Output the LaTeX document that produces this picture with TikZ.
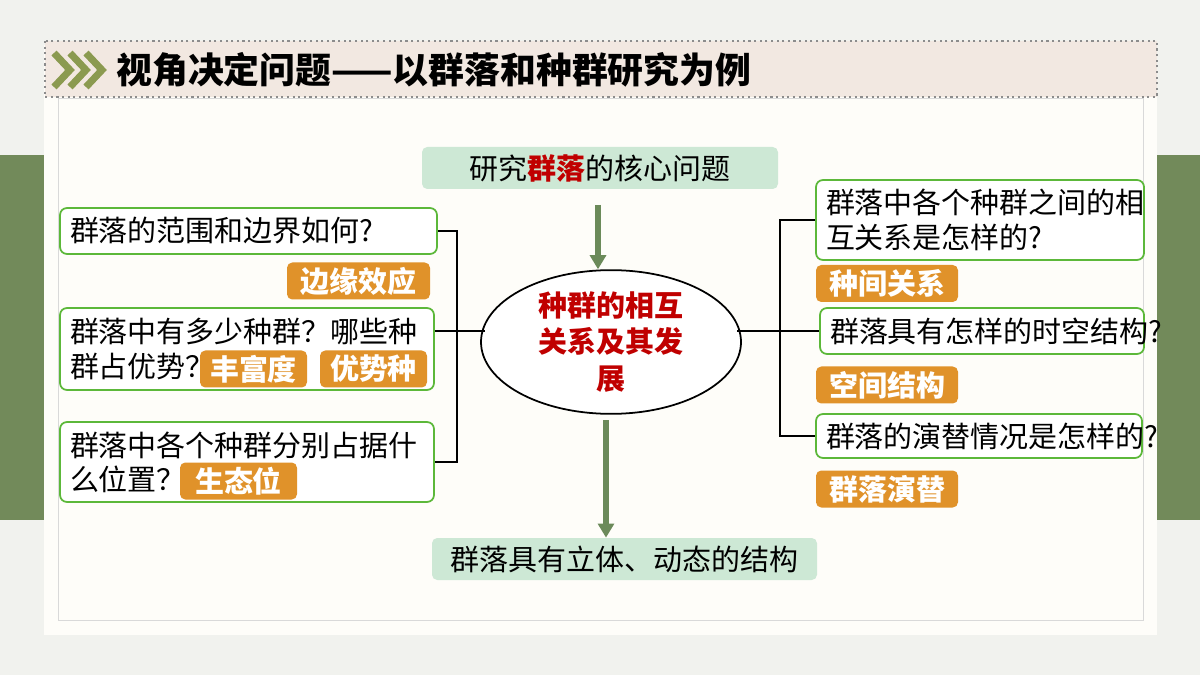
\documentclass[tikz,border=0pt]{standalone}
\usepackage{fontspec}
\setmainfont{Noto Sans CJK SC}
\usetikzlibrary{arrows.meta,positioning,shapes.geometric}
\definecolor{bgray}{HTML}{F1F2EE}
\definecolor{sidegreen}{HTML}{728A5A}
\definecolor{panel}{HTML}{FEFDF9}
\definecolor{headfill}{HTML}{F2E8E1}
\definecolor{olive}{HTML}{8B9A50}
\definecolor{mint}{HTML}{CDE8D5}
\definecolor{boxgreen}{HTML}{5CB83A}
\definecolor{tagorange}{HTML}{E0922A}
\definecolor{arrowgreen}{HTML}{6B8A5A}
\definecolor{keyred}{HTML}{C00000}
\begin{document}
\begin{tikzpicture}[x=0.02cm,y=-0.02cm]
    \tikzstyle{every node} = [font=\fontsize{16.5pt}{19.5pt}\selectfont, inner sep=0pt]
    \tikzstyle{size} = [minimum width=#1*0.02cm]
    \tikzstyle{qbox} = [draw=boxgreen, line width=1pt, fill=white, rounded corners=4pt, align=left, text width=#1*0.02cm-20*0.02cm]
    \tikzstyle{tag} = [fill=tagorange, rounded corners=3pt, text=white, font=\fontsize{16.5pt}{19.5pt}\selectfont\bfseries, minimum height=37*0.02cm]
    \tikzstyle{topic} = [fill=mint, rounded corners=3pt, minimum height=42*0.02cm]
    \tikzstyle{link} = [line width=1pt, black]
    \tikzstyle{flow} = [-{Triangle[length=8pt,width=9pt]}, line width=3.5pt, arrowgreen]
    \useasboundingbox (0,0) rectangle (1200,675);
    % background
    \fill[bgray] (0,0) rectangle (1200,675);
    \fill[sidegreen] (0,155) rectangle (44,520);
    \fill[sidegreen] (1157,155) rectangle (1200,520);
    \fill[panel] (44,45) rectangle (1157,635);
    \draw[black!15] (58,98) rectangle (1143,620);
    % header
    \draw[fill=headfill, draw=black!45, dotted, line width=1.2pt] (45,41) rectangle (1157,97);
    \foreach \dx in {0,16,32}
        \draw[olive, line width=4pt] (54+\dx,53) -- (70+\dx,70) -- (54+\dx,87);
    \node[anchor=west, font=\fontsize{20.4pt}{24pt}\selectfont\bfseries] (title) at (116,70) {视角决定问题——以群落和种群研究为例};
    % place nodes
    \node[topic, size=356] (core) at (600,168) {研究{\bfseries\color{keyred}群落}的核心问题};
    \node[ellipse, draw, line width=1pt, fill=white, minimum width=260*0.02cm, minimum height=110*0.02cm, align=center, text=keyred, font=\fontsize{16.5pt}{21pt}\selectfont\bfseries] (center) at (611,342) {种群的相互\\关系及其发\\展};
    \node[topic, size=385] (result) at (624.5,559) {群落具有立体、动态的结构};

    \node[qbox=377, size=377, minimum height=46*0.02cm] (scope) at (248.5,231) {群落的范围和边界如何?};
    \node[qbox=374, size=374, minimum height=82*0.02cm] (count) at (247,349) {群落中有多少种群？哪些种\\群占优势？};
    \node[qbox=374, size=374, minimum height=80*0.02cm] (niche) at (247,462) {群落中各个种群分别占据什\\么位置？};
    \node[tag, size=143] (edge) at (358.5,281) {边缘效应};
    \node[tag, size=107] (rich) at (253.5,369) {丰富度};
    \node[tag, size=107] (dominant) at (373.5,369) {优势种};
    \node[tag, size=117] (nicheTag) at (238.5,481) {生态位};

    \node[qbox=328, size=328, minimum height=80*0.02cm] (relation) at (980,220) {群落中各个种群之间的相\\互关系是怎样的?};
    \node[qbox=324, size=324, minimum height=46*0.02cm] (structure) at (982,331) {群落具有怎样的时空结构?};
    \node[qbox=326, size=326, minimum height=44*0.02cm] (succession) at (979,436) {群落的演替情况是怎样的?};
    \node[tag, size=142] (interTag) at (887,283.5) {种间关系};
    \node[tag, size=142] (spaceTag) at (887,385) {空间结构};
    \node[tag, size=142] (succTag) at (887,489) {群落演替};

    % Connections
    \coordinate (lbar) at (457,331);
    \coordinate (rbar) at (780,331);
    \draw[link] (scope.east) -| (lbar |- niche.east) -- (niche.east);
    \draw[link] (lbar -| count.east) -- ++(50,0);
    \draw[link] (relation.west) -| (rbar |- succession.west) -- (succession.west);
    \draw[link] (structure.west) -- ++(-82,0);
    \draw[flow] (598,205) -- (center.north -| 598,0);
    \draw[flow] (606,420) -- (result.north -| 606,0);
\end{tikzpicture}
\end{document}
